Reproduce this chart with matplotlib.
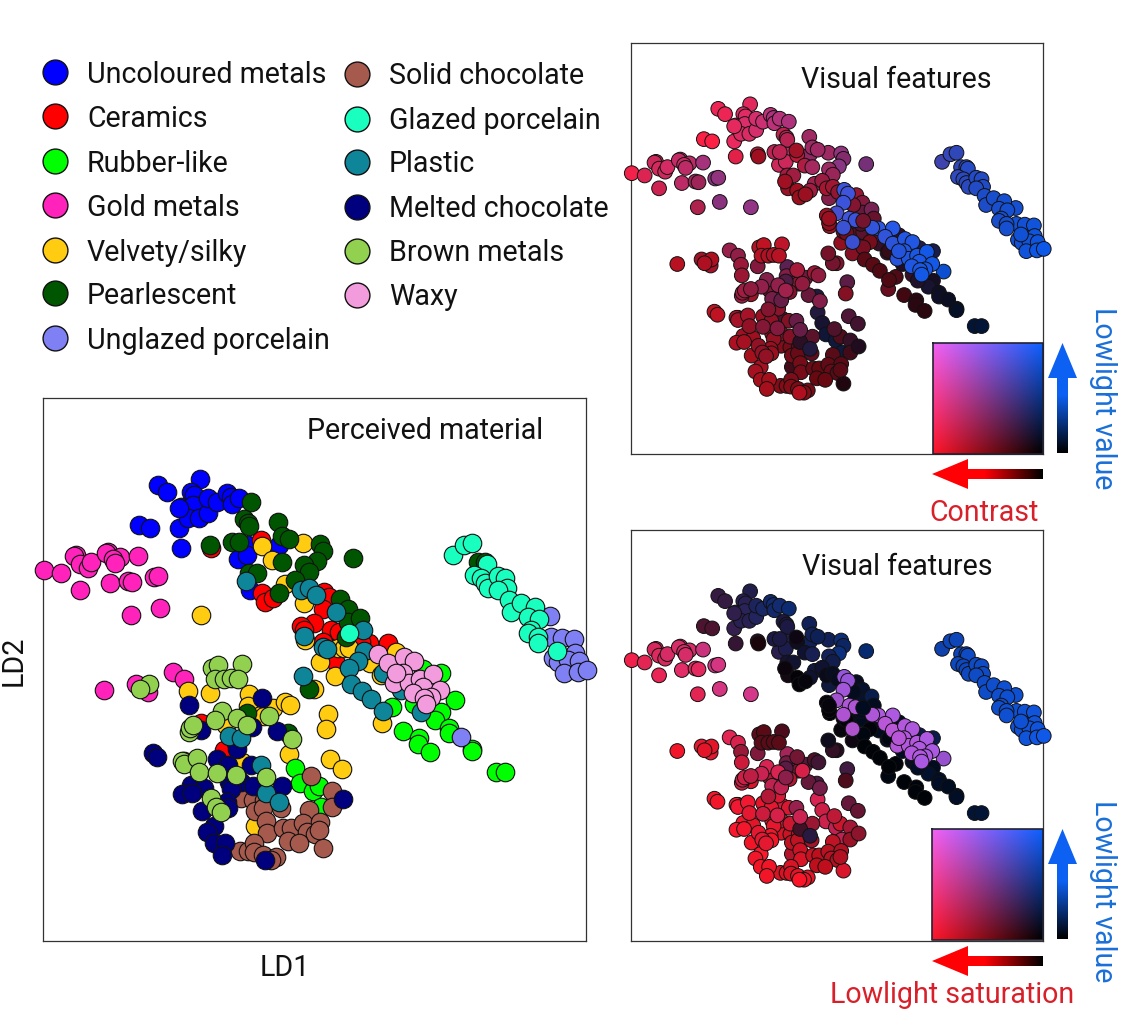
import numpy as np
import matplotlib
matplotlib.use('Agg')
import matplotlib.pyplot as plt
from matplotlib.patches import Polygon

plt.rcParams['font.family'] = ['Roboto', 'DejaVu Sans']

W, H = 1142, 1011

# LD1 / LD2 positions are in the picture's own units, c = contrast,
# v = lowlight value, s = lowlight saturation (all read off the panels)
blue_x = [157,166,199,138,149,178,180,190,193,180,192,187,198,207,207,216,226,230,231,238,178,247,237,246,278,249]
blue_y = [485,492,479,525,528,528,548,492,495,507,505,518,518,513,498,502,493,497,504,498,508,545,559,555,545,590]
blue_c = [.95,.95,.92,1,1,.95,.92,.92,.92,.92,.9,.9,.9,.88,.88,.85,.8,.75,.8,.78,.93,.85,.85,.85,.65,.68]
blue_v = [.2,.2,.25,.12,.12,.25,.15,.28,.28,.28,.3,.28,.28,.32,.32,.35,.38,.4,.38,.4,.25,.3,.25,.25,.3,.05]
blue_s = [.2,.2,.12,.3,.3,.2,.2,.15,.15,.15,.15,.15,.15,.12,.1,.08,.06,.05,.06,.05,.18,.12,.15,.1,.05,.08]

gold_x = [43,60,75,73,79,87,90,107,105,119,112,114,137,79,109,127,131,153,157,130,159,172,183,103,135,147]
gold_y = [570,573,555,556,564,568,562,552,553,557,559,563,556,590,583,581,582,577,576,615,608,672,679,690,684,692]
gold_c = [.97,.9,.88,.85,.88,.85,.88,.82,.82,.8,.85,.8,.72,.85,.8,.72,.7,.62,.65,.75,.62,.68,.65,.78,.7,.72]
gold_v = [.15,.2,.25,.25,.25,.25,.28,.3,.3,.3,.28,.3,.4,.2,.3,.25,.25,.45,.42,.2,.42,.2,.18,.02,.05,.05]
gold_s = [.95,.9,.85,.85,.88,.85,.85,.85,.85,.85,.85,.85,.8,.92,.9,.9,.9,.85,.85,.9,.85,.9,.85,.95,.9,.9]

red_x = [210,260,261,264,272,323,328,322,313,300,303,330,338,322,334,387,368,360,223,200]
red_y = [548,540,593,602,598,592,597,609,623,626,630,630,632,642,661,643,643,642,750,723]
red_c = [.7,.7,.7,.68,.68,.3,.32,.3,.35,.7,.68,.32,.3,.3,.3,.2,.22,.25,.6,.65]
red_v = [.02,.05,.02,.02,.03,.85,.85,.85,.8,.03,.03,.85,.85,.82,.8,.9,.88,.85,.1,.15]
red_s = [.1,.05,.02,.02,.02,.6,.6,.65,.65,.02,.02,.7,.7,.7,.7,.7,.7,.7,.7,.75]

yellow_x = [200,261,271,302,284,303,304,319,334,337,343,348,395,369,380,187,209,248,247,272,284,289,260,263,225,288,241,254,313,327,325,381,329,341]
yellow_y = [615,546,560,543,584,603,640,662,676,648,648,648,652,663,675,691,693,694,706,708,702,705,715,716,725,754,762,826,689,714,729,723,759,769]
yellow_c = [.65,.8,.75,.7,.7,.6,.7,.65,.6,.5,.45,.45,.3,.3,.3,.68,.6,.45,.6,.55,.7,.65,.6,.65,.6,.2,.4,.35,.6,.45,.6,.5,.4,.35]
yellow_v = [.45,.1,.15,.3,.2,.2,.02,.03,.05,.1,.1,.1,.1,.1,.1,.12,.15,.25,.18,.15,.1,.15,.15,.1,.1,.2,.1,.05,.08,.2,.05,.05,.15,.12]
yellow_s = [.85,.05,.05,.05,.05,.05,0,.02,.05,0,0,0,0,0,0,.6,.5,.65,.45,.35,.3,.25,.55,.5,.7,.85,.85,.7,.15,.25,.3,0,.4,.4]

pearl_x = [250,243,247,248,277,209,231,238,281,288,319,322,316,303,308,281,248,256,294,278,352,339,347,347,359,345,477,484,308,246,287]
pearl_y = [502,519,523,526,522,545,542,542,536,539,544,551,561,565,572,562,573,573,580,593,558,599,609,622,618,637,562,562,689,713,733]
pearl_c = [.75,.8,.8,.78,.7,.82,.8,.8,.7,.7,.65,.6,.62,.7,.68,.72,.72,.7,.68,.7,.55,.68,.6,.5,.55,.4,.25,.25,.55,.4,.2]
pearl_v = [.4,.2,.2,.22,.3,.1,.22,.22,.3,.3,.42,.35,.45,.3,.25,.28,.15,.15,.15,.15,.4,.1,.15,.15,.25,.1,.7,.7,.1,.2,.2]
pearl_s = [.03,.1,.1,.1,.05,.15,.1,.1,.05,.04,.03,.03,.03,.06,.06,.08,.08,.06,.05,.05,0,.03,.02,.02,.02,0,.02,.02,.2,.35,.3]

lime_x = [440,422,391,454,413,440,434,448,448,402,418,417,429,471,471,495,504,294,299,312,318,320]
lime_y = [673,669,707,700,704,712,720,728,733,731,738,744,752,749,751,772,772,768,783,791,786,807]
lime_c = [.15,.2,.4,.02,.3,.15,.15,.1,.1,.35,.25,.25,.25,.03,.03,0,0,.15,.1,.1,.4,.1]
lime_v = [.25,.25,.03,.8,.1,.1,.15,.12,.12,.02,.03,.03,.02,.12,.12,.18,.18,.15,.18,.2,.05,.2]
lime_s = [.03,.03,0,.6,.03,0,0,0,0,0,0,0,0,0,0,0,0,.8,.8,.75,.8,.75]

teal_x = [245,300,308,315,335,362,303,322,326,363,357,348,382,302,350,361,370,382,400,420,228,240,260,265,278]
teal_y = [581,590,588,595,612,630,636,647,649,651,661,668,673,676,684,691,699,711,690,712,736,738,765,793,802]
teal_c = [.7,.72,.7,.65,.6,.5,.65,.6,.55,.5,.55,.55,.3,.55,.45,.45,.4,.4,.2,.2,.55,.5,.5,.25,.2]
teal_v = [.03,.08,.1,.1,.1,.1,.02,.03,.03,.1,.03,.05,.05,.08,.02,.02,.02,.02,.1,.12,.2,.2,.2,.1,.2]
teal_s = [.05,.03,.03,.02,.01,.01,.01,.01,.01,.01,0,0,0,.05,0,0,0,0,0,0,.75,.75,.6,.25,.15]

glazed_x = [452,463,471,486,473,480,484,487,497,504,506,497,508,510,520,534,527,538,530,527,537,537,556,348]
glazed_y = [555,545,543,564,575,578,583,588,576,578,588,590,600,612,603,607,617,619,630,633,637,643,651,633]
glazed_c = [.32,.28,.25,.2,.25,.22,.22,.22,.18,.18,.16,.18,.14,.14,.12,.1,.12,.1,.12,.12,.1,.1,.06,.55]
glazed_v = [.65,.7,.7,.75,.72,.72,.72,.72,.75,.75,.75,.75,.76,.76,.78,.8,.78,.8,.78,.78,.8,.8,.82,.1]
glazed_s = [.03,.02,.02,.02,.02,.02,.02,.02,.02,.02,.02,.02,.02,.02,.02,.02,.02,.02,.02,.02,.02,.02,.02,0]

lavender_x = [549,550,561,573,574,552,557,567,578,563,577,586,460]
lavender_y = [616,637,638,639,653,658,662,660,661,673,672,670,737]
lavender_c = [.1,.08,.07,.06,.05,.08,.07,.06,.05,.06,.04,.02,.08]
lavender_v = [.8,.82,.82,.85,.85,.82,.82,.85,.85,.85,.88,.9,.1]
lavender_s = [.02,.02,.02,.02,.02,.02,.02,.02,.02,.02,.02,.02,0]

waxy_x = [377,387,403,413,402,393,408,419,432,422,439,412,430,423,425,395]
waxy_y = [654,663,657,661,673,683,683,679,674,687,690,693,697,698,704,673]
waxy_c = [.25,.22,.18,.16,.16,.2,.15,.12,.08,.12,.08,.14,.1,.12,.08,.18]
waxy_v = [.85,.85,.88,.88,.88,.85,.88,.88,.9,.9,.9,.88,.9,.9,.9,.85]
waxy_s = [.75,.75,.72,.7,.72,.72,.72,.72,.7,.72,.68,.72,.7,.72,.68,.74]

choc_x = [310,331,331,308,240,252,263,254,262,280,265,266,282,290,302,319,306,314,287,298,322,318,239,247,253,253,262,275,270]
choc_y = [776,791,807,810,798,800,800,811,808,808,821,833,828,828,823,822,832,834,841,843,848,830,851,851,843,852,855,857,860]
choc_c = [.4,.3,.35,.45,.6,.55,.5,.55,.5,.45,.55,.55,.5,.5,.48,.45,.5,.45,.5,.5,.2,.45,.6,.6,.58,.6,.58,.55,.6]
choc_v = [.1,.1,.05,.03,.02,.02,.03,.02,.02,.05,.02,.02,.02,0,.02,.02,.02,.02,0,0,.03,.02,.01,.01,.02,.01,.01,.02,.01]
choc_s = [.75,.65,.6,.75,.85,.8,.75,.75,.75,.65,.8,.85,.78,.75,.72,.7,.72,.7,.75,.75,.85,.7,.85,.85,.85,.85,.9,.9,.95]

navy_x = [188,261,200,251,276,235,236,152,156,216,227,250,190,203,181,191,228,240,252,281,230,226,227,201,213,206,213,224,221,264,342]
navy_y = [705,698,730,727,731,743,749,753,757,759,765,765,785,788,794,793,782,782,786,786,789,802,808,811,826,832,843,843,855,860,799]
navy_c = [.68,.72,.7,.6,.5,.62,.62,.8,.8,.68,.65,.6,.7,.7,.75,.72,.68,.62,.6,.45,.66,.68,.68,.72,.72,.72,.72,.72,.72,.75,.2]
navy_v = [.1,.12,.05,.08,.15,.08,.08,.02,.02,.03,.05,.06,.03,.02,.02,.03,.04,.05,.06,.1,.04,.02,.02,.01,.02,.02,.01,.01,.01,.01,.08]
navy_s = [.8,.45,.85,.7,.4,.85,.85,.95,.95,.9,.9,.85,.95,.9,.98,.95,.92,.85,.8,.6,.9,.95,.95,.95,1,.95,.95,.95,.95,.98,.55]

metal_x = [211,217,241,214,223,230,237,148,139,221,214,236,246,268,188,189,192,291,183,181,183,196,198,216,235,265,210,215,220]
metal_y = [668,665,664,679,679,678,679,684,689,711,720,718,725,716,732,728,725,739,761,761,764,758,772,773,775,777,798,807,812]
metal_c = [.75,.8,.8,.78,.75,.75,.78,.75,.75,.6,.65,.65,.7,.65,.7,.7,.7,.6,.72,.72,.72,.72,.65,.6,.6,.5,.65,.65,.65]
metal_v = [.05,.02,.05,.03,.03,.03,.03,.02,.02,.2,.2,.2,.2,.15,.15,.15,.15,.2,.05,.05,.05,.05,.05,.12,.15,.2,.05,.05,.05]
metal_s = [.35,.35,.3,.35,.35,.35,.35,.9,.9,.85,.8,.85,.55,.85,.8,.8,.8,.45,.95,.95,.95,.95,.9,.8,.85,.8,.9,.9,.9]

legend_left = ['Uncoloured metals', 'Ceramics', 'Rubber-like', 'Gold metals', 'Velvety/silky', 'Pearlescent', 'Unglazed porcelain']
legend_left_colors = ['#0000ff', '#ff0000', '#00ff00', '#ff22bb', '#ffcc11', '#005500', '#8080f5']
legend_right = ['Solid chocolate', 'Glazed porcelain', 'Plastic', 'Melted chocolate', 'Brown metals', 'Waxy']
legend_right_colors = ['#a65a4e', '#19ffc0', '#0f8599', '#00007f', '#92d050', '#f29bdd']

# square corners of the 2d colour key
key_tl = np.array([0.95, 0.38, 0.95])
key_tr = np.array([0.05, 0.38, 1.00])
key_bl = np.array([1.00, 0.08, 0.15])
key_br = np.array([0.00, 0.00, 0.00])


def mix(a, b):
    a = np.asarray(a)[..., None]
    b = np.asarray(b)[..., None]
    return a*b*key_tl + (1-a)*b*key_tr + a*(1-b)*key_bl + (1-a)*(1-b)*key_br


def box(l, t, r, b):
    return [l/W, 1-b/H, (r-l)/W, (b-t)/H]


main_groups = [
    (blue_x, blue_y, '#0000ff'), (gold_x, gold_y, '#ff22bb'), (red_x, red_y, '#ff0000'),
    (yellow_x, yellow_y, '#ffcc11'), (lime_x, lime_y, '#00ff00'), (choc_x, choc_y, '#a65a4e'),
    (pearl_x, pearl_y, '#005500'), (navy_x, navy_y, '#00007f'), (teal_x, teal_y, '#0f8599'),
    (metal_x, metal_y, '#92d050'), (lavender_x, lavender_y, '#8080f5'),
    (glazed_x, glazed_y, '#19ffc0'), (waxy_x, waxy_y, '#f29bdd'),
]
# the feature panels stack the groups a bit differently
feature_groups = [
    (blue_x, blue_y, blue_c, blue_v, blue_s), (gold_x, gold_y, gold_c, gold_v, gold_s),
    (yellow_x, yellow_y, yellow_c, yellow_v, yellow_s), (pearl_x, pearl_y, pearl_c, pearl_v, pearl_s),
    (lime_x, lime_y, lime_c, lime_v, lime_s), (choc_x, choc_y, choc_c, choc_v, choc_s),
    (navy_x, navy_y, navy_c, navy_v, navy_s), (teal_x, teal_y, teal_c, teal_v, teal_s),
    (metal_x, metal_y, metal_c, metal_v, metal_s), (red_x, red_y, red_c, red_v, red_s),
    (lavender_x, lavender_y, lavender_c, lavender_v, lavender_s),
    (glazed_x, glazed_y, glazed_c, glazed_v, glazed_s), (waxy_x, waxy_y, waxy_c, waxy_v, waxy_s),
]

fig = plt.figure(figsize=(W/100, H/100), dpi=100)


def setup(ax):
    ax.set_xlim(42, 585)
    ax.set_ylim(941, 398)
    ax.set_xticks([])
    ax.set_yticks([])
    for sp in ax.spines.values():
        sp.set_color('#333333')
        sp.set_linewidth(0.9)


ax_main = fig.add_axes(box(43, 398, 586, 941))
setup(ax_main)
for x, y, col in main_groups:
    ax_main.scatter(x, y, s=178, c=col, edgecolors='#111111', linewidths=0.8, clip_on=False, zorder=3)

ax_top = fig.add_axes(box(631, 43, 1043, 454))
setup(ax_top)
ax_low = fig.add_axes(box(631, 530, 1043, 941))
setup(ax_low)
for x, y, c, v, s in feature_groups:
    # contrast reads a touch darker in the top panel than the key suggests
    top_cols = mix(np.array(c)**1.3, np.array(v)**0.9)
    ax_top.scatter(x, y, s=112, c=top_cols, edgecolors='#111111', linewidths=0.7, clip_on=False, zorder=3)
    ax_low.scatter(x, y, s=112, c=mix(s, np.array(v)**0.9), edgecolors='#111111', linewidths=0.7, clip_on=False, zorder=3)

# overlay in pixel coords for legend, keys and labels
ov = fig.add_axes([0, 0, 1, 1], zorder=10)
ov.set_xlim(0, W)
ov.set_ylim(H, 0)
ov.axis('off')
ov.patch.set_alpha(0)

fs = 20.6
for y, name, col in zip([72, 116, 161, 205, 250, 293, 338], legend_left, legend_left_colors):
    ov.scatter(55, y, s=320, c=col, edgecolors='#111111', linewidths=1.0)
    ov.text(87, y+3, name, fontsize=fs, va='center', color='#111111')
for y, name, col in zip([74, 119, 162, 207, 251, 295], legend_right, legend_right_colors):
    ov.scatter(357, y, s=320, c=col, edgecolors='#111111', linewidths=1.0)
    ov.text(389, y+2, name, fontsize=fs, va='center', color='#111111')

ov.text(425, 431, 'Perceived material', fontsize=fs, ha='center', va='center', color='#111111')
ov.text(896, 80, 'Visual features', fontsize=fs, ha='center', va='center', color='#111111')
ov.text(897, 567, 'Visual features', fontsize=fs, ha='center', va='center', color='#111111')
ov.text(285, 968, 'LD1', fontsize=fs, ha='center', va='center', color='#111111')
ov.text(14, 661, 'LD2', fontsize=fs, ha='center', va='center', rotation=90, color='#111111')

key_blue = '#1a6fd8'
key_red = '#d8202a'
ov.text(984, 513, 'Contrast', fontsize=fs, ha='center', va='center', color=key_red)
ov.text(952, 995, 'Lowlight saturation', fontsize=fs, ha='center', va='center', color=key_red)
ov.text(1103, 398, 'Lowlight value', fontsize=fs, ha='center', va='center', rotation=270, color=key_blue)
ov.text(1103, 891, 'Lowlight value', fontsize=fs, ha='center', va='center', rotation=270, color=key_blue)

grid = np.linspace(0, 1, 80)
gc, gv = np.meshgrid(grid[::-1], grid[::-1])
square = mix(gc, gv)
blue_ramp = np.linspace(1, 0, 100)[:, None, None]
blue_ramp = np.clip(blue_ramp*1.9, 0, 1) * np.array([0.05, 0.38, 0.95])
red_ramp = np.linspace(1, 0, 100)[None, :, None]
red_ramp = np.clip(red_ramp*1.9, 0, 1) * np.array([1.0, 0.0, 0.02])

for top, x0 in [(343, 933), (829, 932)]:
    bottom = top + 111
    ov.imshow(square, extent=(x0, 1043, bottom, top), aspect='auto', origin='upper', zorder=2)
    ov.plot([x0, 1043, 1043, x0, x0], [top, top, bottom, bottom, top], color='#222233', lw=1.2, zorder=3)
    # blue arrow going up
    pts = [(1057, bottom-1), (1057, top+35), (1048, top+35), (1062.5, top), (1077, top+35), (1068, top+35), (1068, bottom-1)]
    im = ov.imshow(blue_ramp, extent=(1048, 1077, bottom-1, top), aspect='auto', origin='upper', zorder=2)
    im.set_clip_path(Polygon(pts, transform=ov.transData))
    # red arrow going left
    ay = bottom + 20 if top == 343 else bottom + 21
    pts = [(1043, ay-5), (968, ay-5), (968, ay-15), (932, ay), (968, ay+15), (968, ay+5), (1043, ay+5)]
    im = ov.imshow(red_ramp, extent=(932, 1043, ay+15, ay-15), aspect='auto', origin='upper', zorder=2)
    im.set_clip_path(Polygon(pts, transform=ov.transData))

ov.set_xlim(0, W)
ov.set_ylim(H, 0)

fig.savefig('out.png', dpi=100, facecolor='white')
